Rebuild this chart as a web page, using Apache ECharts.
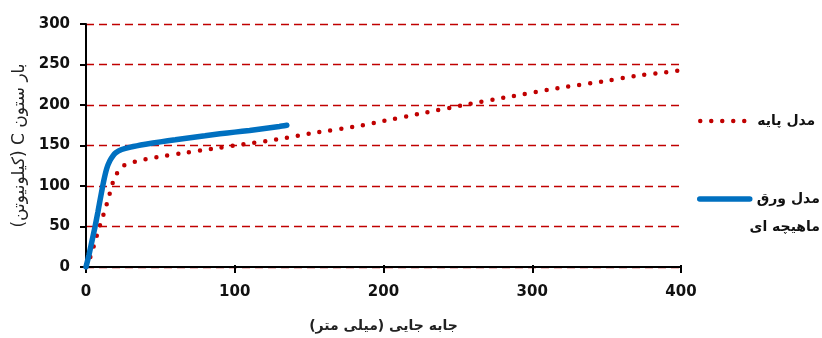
<!DOCTYPE html>
<html>
<head>
<meta charset="utf-8">
<script src="https://cdn.jsdelivr.net/npm/echarts@6/dist/echarts.min.js"></script>
<style>html,body{margin:0;padding:0;background:#fff;}#c{width:822px;height:338px;}</style>
</head>
<body>
<div id="c"></div>
<script>
const RLE = '\u202B', PDF = '\u202C';
const xTicks = [0, 100, 200, 300, 400];
const yTicks = [0, 50, 100, 150, 200, 250, 300];
const xName = 'جابه جایی (میلی متر)';
const yName = 'بار ستون C (کیلونیوتن)';
const baseName = 'مدل پایه';
const sheetName = 'مدل ورق';
const sheetName2 = 'ماهیچه ای';

const baseDisp = [0,2,4,6,8,10,12,14,16,18,20,22,25,30,40,50,63,85,108,130,153,183,198,228,257,287,317,347,369,392,398];
const baseLoad = [0,8,18,31,43,55,66,78,91,104,113,119,125,128.5,133,136.5,140,146,152,158,165.5,174,179.5,190.5,201,211,220.7,229,235.7,241,242.5];
const sheetDisp = [0,2,4,6,8,10,12,14,16,18,20,24,30,40,50,60,70,80,90,100,110,120,130,135];
const sheetLoad = [0,15,32,49,68,88,107,122,131,137,141,145,148,151.5,154.5,157,159.5,162,164.5,166.5,168.5,171,173.5,175];

const pairs = (xs, ys) => xs.map((x, i) => [x, ys[i]]);
const RED = '#C00000', BLUE = '#0070C0';
const labelFont = {fontFamily: 'DejaVu Sans', fontWeight: 'bold', fontSize: 15, color: '#111'};
const legendText = {fontFamily: 'DejaVu Sans', fontSize: 14, fontWeight: 'bold', color: '#111'};

const chart = echarts.init(document.getElementById('c'), null, {renderer: 'canvas'});
chart.setOption({
  animation: false,
  grid: {left: 86, right: 141, top: 24, bottom: 68},
  xAxis: [{
    type: 'value', min: xTicks[0], max: xTicks[xTicks.length - 1], interval: 100,
    name: RLE + xName + PDF, nameLocation: 'middle', nameGap: 52,
    nameTextStyle: {fontFamily: 'DejaVu Sans', fontSize: 14, fontWeight: 'bold', color: '#222'},
    axisLine: {lineStyle: {color: '#000', width: 2}},
    axisTick: {show: true, length: 6, lineStyle: {color: '#000', width: 2}},
    axisLabel: Object.assign({margin: 18}, labelFont),
    splitLine: {show: false}
  }, {
    type: 'value', position: 'top', offset: -246, min: 0, max: 400, interval: 100,
    axisLine: {show: false},
    axisTick: {show: true, length: 5, lineStyle: {color: '#000', width: 2}},
    axisLabel: {show: false},
    splitLine: {show: false}
  }],
  yAxis: {
    type: 'value', min: yTicks[0], max: yTicks[yTicks.length - 1], interval: 50,
    name: RLE + yName + PDF, nameLocation: 'middle', nameGap: 57,
    nameTextStyle: {fontFamily: 'DejaVu Sans', fontSize: 17, color: '#222'},
    axisLine: {show: true, lineStyle: {color: '#000', width: 2}},
    axisTick: {show: true, length: 6, lineStyle: {color: '#000', width: 2}},
    axisLabel: Object.assign({margin: 16}, labelFont),
    splitLine: {show: true, lineStyle: {color: RED, width: 1.3, type: [8, 5]}}
  },
  legend: [{
    left: 693, top: 109, itemWidth: 48, itemHeight: 14, orient: 'vertical',
    data: [{name: baseName, itemStyle: {opacity: 0},
            lineStyle: {color: RED, width: 4.5, type: [0, 11], cap: 'round'}}],
    formatter: n => RLE + n + PDF,
    textStyle: Object.assign({padding: [0, 0, 0, 4]}, legendText)
  }, {
    left: 692, top: 187, itemWidth: 50, itemHeight: 14, orient: 'vertical',
    data: [{name: sheetName, itemStyle: {opacity: 0},
            lineStyle: {color: BLUE, width: 5.5, type: 'solid', cap: 'round'}}],
    formatter: n => RLE + n + PDF,
    textStyle: Object.assign({padding: [0, 0, 0, 2]}, legendText)
  }],
  graphic: [{
    type: 'text', right: 2, top: 220,
    style: {text: RLE + sheetName2 + PDF, font: 'bold 14px "DejaVu Sans"', fill: '#111'}
  }],
  series: [{
    name: baseName, type: 'line', data: pairs(baseDisp, baseLoad),
    symbol: 'none', smooth: 0.2,
    lineStyle: {color: RED, width: 4.5, type: [0, 11], cap: 'round'},
    itemStyle: {color: RED}
  }, {
    name: sheetName, type: 'line', data: pairs(sheetDisp, sheetLoad),
    symbol: 'none', smooth: 0.2,
    lineStyle: {color: BLUE, width: 5.5, cap: 'round'},
    itemStyle: {color: BLUE}
  }]
});
</script>
</body>
</html>
